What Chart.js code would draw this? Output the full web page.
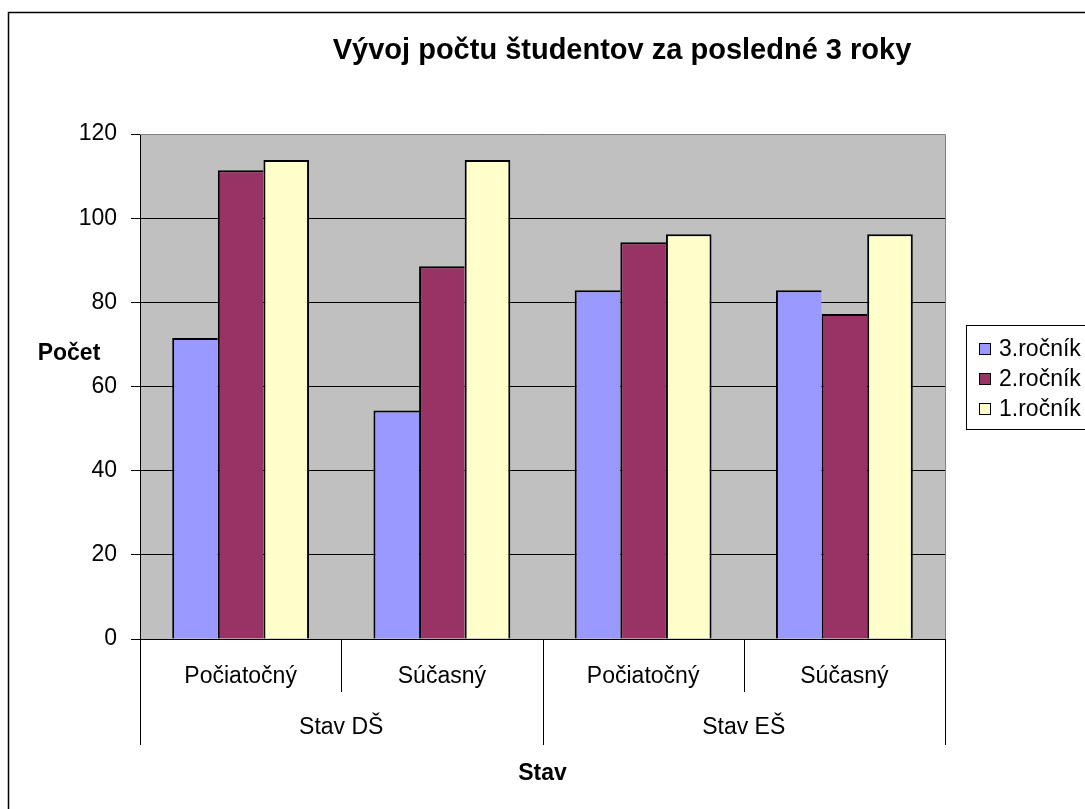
<!DOCTYPE html>
<html>
<head>
<meta charset="utf-8">
<script src="https://cdn.jsdelivr.net/npm/chart.js@4.4.0/dist/chart.umd.min.js"></script>
<style>
  html, body { margin: 0; padding: 0; background: #fff; overflow: hidden; }
  canvas { display: block; }
</style>
</head>
<body>
<canvas id="chart" width="1085" height="809"></canvas>
<script>
// Data
const categories = ['Počiatočný', 'Súčasný', 'Počiatočný', 'Súčasný'];
const groups = ['Stav DŠ', 'Stav EŠ'];
const seriesNames = ['3.ročník', '2.ročník', '1.ročník'];
const rocnik3 = [71.5, 54.3, 82.9, 82.9];
const rocnik2 = [111.4, 88.6, 94.3, 77.2];
const rocnik1 = [113.8, 113.8, 96.2, 96.2];
const yMin = 0, yMax = 120, yStep = 20;

const chartTitle = 'Vývoj počtu študentov za posledné 3 roky';
const yTitle = 'Počet';
const xTitle = 'Stav';

const FONT = '"Liberation Sans", Arial, sans-serif';
const colors = ['#9999FF', '#993366', '#FFFFCC'];

Chart.defaults.font.family = FONT;
Chart.defaults.color = '#000';

// Frame, plot background, category separators, title and legend
const decor = {
  id: 'decor',
  beforeDraw(chart) {
    const { ctx, chartArea: a } = chart;
    ctx.save();
    ctx.fillStyle = '#fff';
    ctx.fillRect(0, 0, chart.width, chart.height);
    ctx.strokeStyle = '#000';
    ctx.lineWidth = 1.5;
    ctx.strokeRect(8.5, 12.5, chart.width + 20, chart.height + 20);
    ctx.fillStyle = '#C0C0C0';
    ctx.fillRect(a.left, a.top, a.right - a.left, a.bottom - a.top);
    ctx.restore();
  },
  afterDraw(chart) {
    const { ctx, chartArea: a } = chart;
    const xs = chart.scales.x, x2 = chart.scales.x2;
    ctx.save();

    // plot border top / right
    ctx.strokeStyle = '#808080';
    ctx.lineWidth = 1;
    ctx.beginPath();
    ctx.moveTo(a.left, Math.round(a.top) + 0.5);
    ctx.lineTo(Math.round(a.right) + 0.5, Math.round(a.top) + 0.5);
    ctx.lineTo(Math.round(a.right) + 0.5, a.bottom);
    ctx.stroke();

    // category separators (multi-level axis)
    ctx.strokeStyle = '#000';
    const half = (xs.getPixelForValue(1) - xs.getPixelForValue(0)) / 2;
    for (let i = 0; i <= categories.length; i++) {
      const px = Math.round(xs.getPixelForValue(0) - half + i * 2 * half) + 0.5;
      const outer = i % 2 === 0;
      ctx.beginPath();
      ctx.moveTo(px, xs.top);
      ctx.lineTo(px, outer ? x2.top + 53 : xs.bottom);
      ctx.stroke();
    }

    // title
    ctx.fillStyle = '#000';
    ctx.textAlign = 'center';
    ctx.textBaseline = 'alphabetic';
    ctx.font = 'bold 29px ' + FONT;
    ctx.fillText(chartTitle, 622, 59);

    // y axis title (horizontal)
    ctx.font = 'bold 23px ' + FONT;
    ctx.fillText(yTitle, 69, 360);

    // legend
    const lx = 966.5, ly = 325.5;
    ctx.lineWidth = 1;
    ctx.strokeStyle = '#000';
    ctx.strokeRect(lx, ly, 200, 104);
    ctx.font = '23px ' + FONT;
    ctx.textAlign = 'left';
    ctx.textBaseline = 'middle';
    chart.data.datasets.forEach((ds, i) => {
      const cy = 349 + i * 30;
      ctx.fillStyle = ds.backgroundColor;
      ctx.fillRect(979.5, cy - 5.5, 11, 11);
      ctx.strokeRect(979.5, cy - 5.5, 11, 11);
      ctx.fillStyle = '#000';
      ctx.fillText(ds.label, 999, cy + 1);
    });
    ctx.restore();
  }
};

// last bar of a cluster gets the right border, the others share the left one
function makeDataset(label, data, color, last) {
  return {
    label: label,
    data: data,
    backgroundColor: color,
    borderColor: '#000',
    borderWidth: { top: 2, left: 2, right: last ? 2 : 0, bottom: 0 },
    borderSkipped: false,
    barPercentage: 1.0,
    categoryPercentage: 0.68
  };
}

document.addEventListener('DOMContentLoaded', function() {
  const ctx = document.getElementById('chart').getContext('2d');
  new Chart(ctx, {
    type: 'bar',
    data: {
      labels: categories,
      datasets: [
        makeDataset(seriesNames[0], rocnik3, colors[0], false),
        makeDataset(seriesNames[1], rocnik2, colors[1], false),
        makeDataset(seriesNames[2], rocnik1, colors[2], true)
      ]
    },
    options: {
      responsive: false,
      animation: false,
      devicePixelRatio: 1,
      layout: { padding: { left: 0, right: 140, top: 134, bottom: 0 } },
      plugins: {
        legend: { display: false },
        title: { display: false },
        tooltip: { enabled: false }
      },
      scales: {
        x: {
          type: 'category',
          position: 'bottom',
          weight: 0,
          offset: true,
          grid: { display: false, drawTicks: false },
          border: { display: true, color: '#000', width: 1 },
          ticks: { color: '#000', font: { size: 23 }, padding: 24, maxRotation: 0, autoSkip: false },
          afterFit(s) { s.height = 53; }
        },
        x2: {
          type: 'category',
          labels: groups,
          position: 'bottom',
          weight: 1,
          offset: true,
          grid: { display: false, drawTicks: false },
          border: { display: false },
          ticks: { color: '#000', font: { size: 23 }, padding: 22, maxRotation: 0, autoSkip: false },
          title: {
            display: true,
            text: xTitle,
            color: '#000',
            font: { size: 23, weight: 'bold' },
            padding: { top: 0, bottom: 22 }
          },
          afterFit(s) { s.height = 117; }
        },
        y: {
          min: yMin,
          max: yMax,
          ticks: { stepSize: yStep, padding: 14, color: '#000', font: { size: 23 } },
          grid: { color: '#000', tickLength: 9 },
          border: { color: '#000' },
          afterFit(s) { s.width = 140; }
        }
      }
    },
    plugins: [decor]
  });
});
</script>
</body>
</html>
